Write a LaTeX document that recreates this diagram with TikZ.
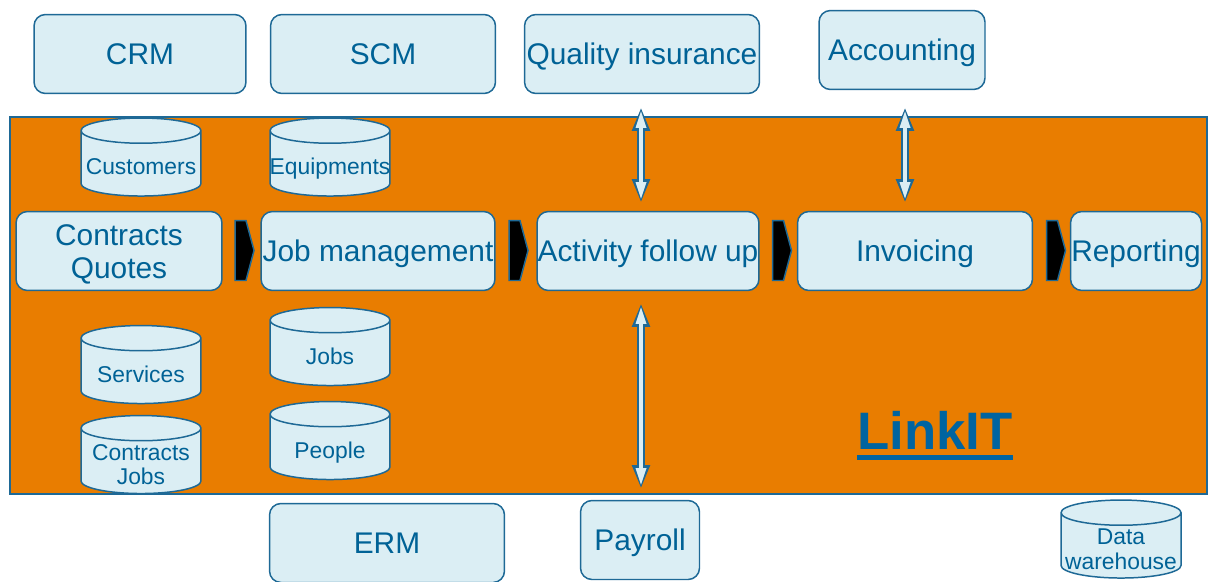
\documentclass[tikz,border=0pt]{standalone}
\usepackage{fontspec}
\setmainfont{Liberation Sans}
\usetikzlibrary{arrows.meta,positioning,calc,shapes.geometric,shapes.symbols}
\definecolor{LkOrange}{RGB}{233,125,0}
\definecolor{LkLine}{RGB}{30,105,150}
\definecolor{LkFill}{RGB}{219,238,244}
\definecolor{LkText}{RGB}{0,98,150}
\definecolor{LkTitle}{RGB}{0,100,160}
% fixed-size label for the data stores
\newcommand{\lkdb}[1]{\makebox[0pt]{\begin{tabular}{@{}c@{}}#1\end{tabular}}}
\tikzset{
  lk/frame/.style={
    draw=LkLine,
    line width=0.8pt,
    fill=LkOrange,
    inner sep=0pt,
    minimum width=23.94cm,
    minimum height=7.54cm
  },
  lk/box/.style={
    draw=LkLine,
    line width=0.85pt,
    rounded corners=6.5pt,
    fill=LkFill,
    align=center,
    text=LkText,
    inner sep=0pt,
    text height=12.2pt,
    text depth=0pt,
    minimum height=1.58cm,
    font=\fontsize{17}{19}\selectfont
  },
  lk/db/.style={
    cylinder,
    shape border rotate=90,
    aspect=0.21,
    draw=LkLine,
    line width=0.85pt,
    fill=LkFill,
    text=LkText,
    inner xsep=1.2cm,
    inner ysep=0pt,
    minimum height=1.56cm,
    font=\fontsize{13}{14}\selectfont
  },
  lk/chevron/.style={
    signal,
    signal to=east,
    signal pointer angle=150,
    draw=LkLine,
    line width=0.85pt,
    fill=black,
    inner sep=0pt,
    minimum width=0.38cm,
    minimum height=1.2cm
  },
  lk/dblarrow/.style={
    draw=LkLine, line width=4.5pt,
    {Triangle[length=13.5pt,width=9.5pt]}-{Triangle[length=13.5pt,width=9.5pt]},
    postaction={draw=LkFill, line width=2.2pt, shorten <=1.7pt, shorten >=1.7pt,
      {Triangle[length=10pt,width=5.5pt]}-{Triangle[length=10pt,width=5.5pt]}}
  },
  lk/title/.style={font=\fontsize{30}{32}\selectfont\bfseries, text=LkTitle, inner sep=0pt}
}

\begin{document}
\begin{tikzpicture}[x=0.02cm,y=-0.02cm]
  \useasboundingbox (0,0) rectangle (1209,581);
  % LinkIT frame
  \node[lk/frame] (frame) at (608.5,305.5) {};
  % outside systems
  \node[lk/box,minimum width=4.24cm] (crm) at (140,54) {CRM};
  \node[lk/box,minimum width=4.5cm] (scm) at (383,54) {SCM};
  \node[lk/box,minimum width=4.7cm] (qi) at (642,54) {Quality insurance};
  \node[lk/box,minimum width=3.32cm] (acct) at (902,50) {Accounting};
  \node[lk/box,minimum width=4.7cm] (erm) at (387,543) {ERM};
  \node[lk/box,minimum width=2.38cm] (pay) at (640,540) {Payroll};
  \node[lk/db] (dw) at (1121,552) {\lkdb{Data\\warehouse}};
  % process chain
  \node[lk/box,minimum width=4.12cm,text height=31.2pt] (cq) at (119,251) {Contracts\\Quotes};
  \node[lk/box,minimum width=4.68cm] (job) at (378,251) {Job management};
  \node[lk/box,minimum width=4.44cm] (act) at (648,251) {Activity follow up};
  \node[lk/box,minimum width=4.7cm] (inv) at (915,251) {Invoicing};
  \node[lk/box,minimum width=2.62cm] (rep) at (1136,251) {Reporting};
  \node[lk/chevron] (ch1) at (240.5,250.5) {};
  \node[lk/chevron] (ch2) at (514.5,250.5) {};
  \node[lk/chevron] (ch3) at (778,250.5) {};
  \node[lk/chevron] (ch4) at (1052,250.5) {};
  % data stores
  \node[lk/db] (cust) at (141,170) {\lkdb{Customers}};
  \node[lk/db] (equip) at (330,170) {\lkdb{Equipments}};
  \node[lk/db] (serv) at (141,377.5) {\lkdb{Services}};
  \node[lk/db] (cjobs) at (141,467.5) {\lkdb{Contracts\\Jobs}};
  \node[lk/db] (jobs) at (330,359.5) {\lkdb{Jobs}};
  \node[lk/db] (people) at (330,453.5) {\lkdb{People}};
  % exchanges
  \draw[lk/dblarrow] ($(qi.south)+(-1,13)$) -- ($(qi.south |- act.north)+(-1,-8)$);
  \draw[lk/dblarrow] ($(acct.south)+(3,17)$) -- ($(acct.south |- inv.north)+(3,-8)$);
  \draw[lk/dblarrow] ($(pay.north)+(1,-11)$) -- ($(pay.north |- act.south)+(1,12)$);
  % title
  \node[lk/title] (lnk) at (935,430) {LinkIT};
  \draw[line width=2.8pt,LkTitle] ($(lnk.base west)+(0,8)$) -- ($(lnk.base east)+(0,8)$);
\end{tikzpicture}
\end{document}
